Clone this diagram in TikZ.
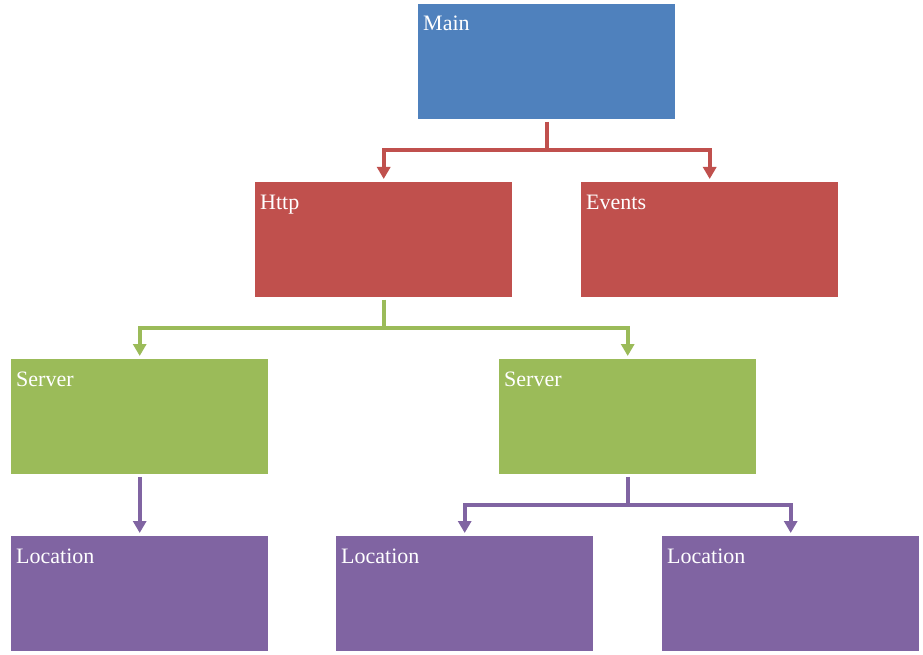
\documentclass[tikz,border=0pt]{standalone}
\usepackage{fontspec}
\setmainfont{Liberation Serif}
\usetikzlibrary{arrows.meta}
\definecolor{cblue}{HTML}{4F81BD}
\definecolor{cred}{HTML}{C0504D}
\definecolor{cgreen}{HTML}{9BBB59}
\definecolor{cpurple}{HTML}{8064A2}
\tikzset{
  box/.style={fill=#1, draw=none, rectangle, anchor=north west, inner sep=0pt, minimum width=257pt, minimum height=115pt},
  lbl/.style={anchor=base west, text=white, inner sep=0pt, font=\fontsize{22}{25}\selectfont},
  conn/.style={draw=#1, line width=4pt, shorten <=2.5pt, shorten >=3pt, -{Triangle[length=12pt,width=13pt]}},
}
\begin{document}
\begin{tikzpicture}[x=1pt,y=-1pt]
\useasboundingbox (0,0) rectangle (923,655);
\node[box=cblue] (main) at (418,4) {};
\node[box=cred] (http) at (255,182) {};
\node[box=cred] (events) at (581,182) {};
\node[box=cgreen] (srv1) at (11,359) {};
\node[box=cgreen] (srv2) at (499,359) {};
\node[box=cpurple] (loc1) at (11,536) {};
\node[box=cpurple] (loc2) at (336,536) {};
\node[box=cpurple] (loc3) at (662,536) {};
\node[lbl] (tmain) at ([shift={(5,27)}]main.north west) {Main};
\node[lbl] (thttp) at ([shift={(5,27)}]http.north west) {Http};
\node[lbl] (tevents) at ([shift={(5,27)}]events.north west) {Events};
\node[lbl] (tsrv1) at ([shift={(5,27)}]srv1.north west) {Server};
\node[lbl] (tsrv2) at ([shift={(5,27)}]srv2.north west) {Server};
\node[lbl] (tloc1) at ([shift={(5,27)}]loc1.north west) {Location};
\node[lbl] (tloc2) at ([shift={(5,27)}]loc2.north west) {Location};
\node[lbl] (tloc3) at ([shift={(5,27)}]loc3.north west) {Location};
\draw[conn=cred] (main.south) -- ++(0,31) -| (http.north);
\draw[conn=cred] (main.south) -- ++(0,31) -| (events.north);
\draw[conn=cgreen] (http.south) -- ++(0,31) -| (srv1.north);
\draw[conn=cgreen] (http.south) -- ++(0,31) -| (srv2.north);
\draw[conn=cpurple] (srv1.south) -- (loc1.north);
\draw[conn=cpurple] (srv2.south) -- ++(0,31) -| (loc2.north);
\draw[conn=cpurple] (srv2.south) -- ++(0,31) -| (loc3.north);
\end{tikzpicture}
\end{document}
